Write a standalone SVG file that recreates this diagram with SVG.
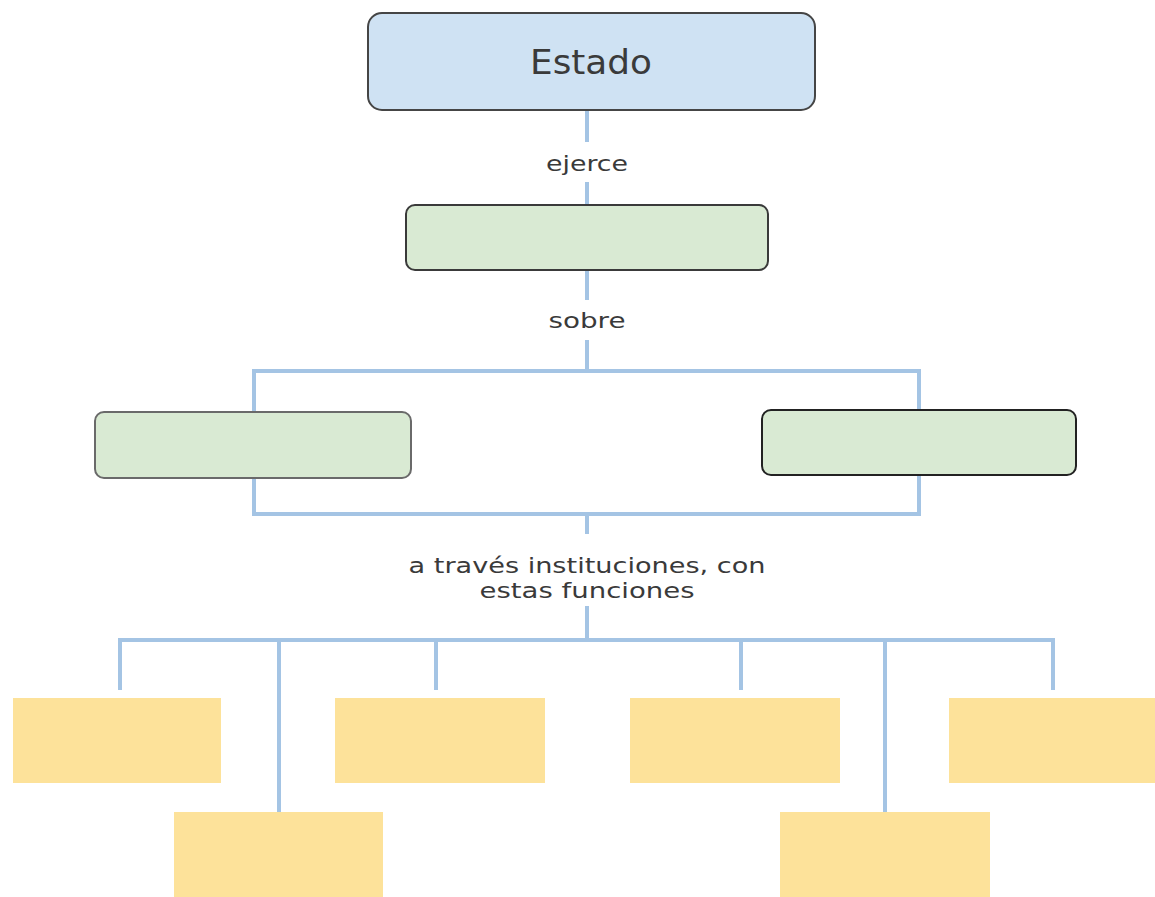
<svg xmlns="http://www.w3.org/2000/svg" width="1155" height="897" viewBox="0 0 1155 897">
<style>
.c{fill:none;stroke:#a4c4e4;stroke-width:4;stroke-linecap:square}
.t{font-family:"DejaVu Sans","Liberation Sans",sans-serif;fill:#3a3a3a;text-anchor:middle}
.g{fill:#d9ead3;stroke-width:2}
.y{fill:#fde29a}
</style>
<rect width="1155" height="897" fill="#ffffff"/>
<g id="connectors">
<path class="c" d="M587 110V140M587 184V205M587 270V298M587 342V371"/>
<path class="c" d="M254 371H919M254 371V514M919 371V514M254 514H919"/>
<path class="c" d="M587 514V532M587 608V640"/>
<path class="c" d="M120 640H1053M120 640V688M279 640V812M436 640V688M741 640V688M885 640V812M1053 640V688"/>
</g>
<g id="label-ejerce"><text class="t" x="587" y="171" font-size="22" textLength="82" lengthAdjust="spacingAndGlyphs">ejerce</text></g>
<g id="label-sobre"><text class="t" x="587" y="328" font-size="22" textLength="77" lengthAdjust="spacingAndGlyphs">sobre</text></g>
<g id="label-instituciones">
<text class="t" x="587" y="573" font-size="22" textLength="357" lengthAdjust="spacingAndGlyphs">a través instituciones, con</text>
<text class="t" x="587" y="598" font-size="22" textLength="215" lengthAdjust="spacingAndGlyphs">estas funciones</text>
</g>
<g id="node-estado">
<rect x="368" y="13" width="447" height="97" rx="14" fill="#cfe2f3" stroke="#454545" stroke-width="2"/>
<text class="t" x="591" y="74" font-size="34" textLength="122" lengthAdjust="spacingAndGlyphs">Estado</text>
</g>
<g id="node-ejerce-blank"><rect class="g" x="406" y="205" width="362" height="65" rx="9" stroke="#3a3a3a"/></g>
<g id="node-left-blank"><rect class="g" x="95" y="412" width="316" height="66" rx="9" stroke="#6a6a6a"/></g>
<g id="node-right-blank"><rect class="g" x="762" y="410" width="314" height="65" rx="9" stroke="#222222" stroke-width="3"/></g>
<g id="node-f1"><rect class="y" x="13" y="698" width="208" height="85"/></g>
<g id="node-f2"><rect class="y" x="174" y="812" width="209" height="85"/></g>
<g id="node-f3"><rect class="y" x="335" y="698" width="210" height="85"/></g>
<g id="node-f4"><rect class="y" x="630" y="698" width="210" height="85"/></g>
<g id="node-f5"><rect class="y" x="780" y="812" width="210" height="85"/></g>
<g id="node-f6"><rect class="y" x="949" y="698" width="206" height="85"/></g>
</svg>
